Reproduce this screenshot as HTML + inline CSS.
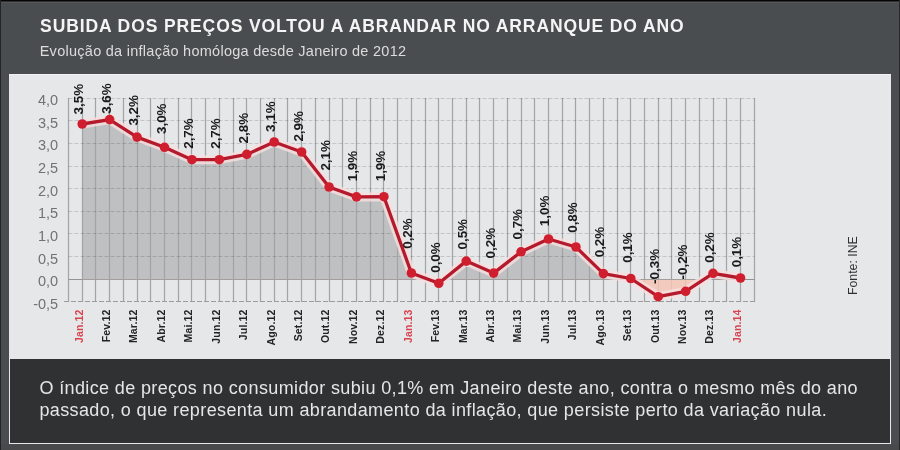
<!DOCTYPE html>
<html><head><meta charset="utf-8"><style>
html,body{margin:0;padding:0;}
body{width:900px;height:450px;overflow:hidden;position:relative;background:#4a4d4f;font-family:"Liberation Sans",sans-serif;}
.topline{position:absolute;left:0;top:0;width:900px;height:1px;background:#050505;}
.topline2{position:absolute;left:0;top:1px;width:900px;height:1px;background:#2e3032;}
.topline3{position:absolute;left:0;top:2px;width:900px;height:1px;background:#535557;}
.botbg{position:absolute;left:0;top:444px;width:900px;height:6px;background:#47494b;}
.lline{position:absolute;left:0;top:0;width:1px;height:450px;background:#222426;}
.rline{position:absolute;right:0;top:0;width:1px;height:450px;background:#252729;}
.title{fill:#f4f4f4;font-weight:bold;font-size:17.5px;letter-spacing:0.89px;}
.sub{fill:#dcdcdc;font-size:14.5px;letter-spacing:0.265px;}
.panel{position:absolute;left:9px;top:74px;width:882px;height:370px;background:#e6e7e9;border-top:1px solid #f0f1f2;box-sizing:border-box;}
.dark{position:absolute;left:10px;top:359px;width:880px;height:84px;background:#303133;}
.txt{fill:#e6e6e6;font-size:18px;letter-spacing:0.375px;}
svg{position:absolute;left:0;top:0;will-change:transform;}
.vl{font-size:13.4px;font-weight:bold;fill:#1a1a1a;}
.ml{font-size:10.5px;font-weight:bold;letter-spacing:0.15px;}
.yl{font-size:14.5px;fill:#717274;}
.fonte{font-size:12.3px;fill:#303030;}
</style></head><body>
<div class="topline"></div><div class="topline2"></div><div class="topline3"></div><div class="botbg"></div><div class="lline"></div><div class="rline"></div>
<div class="panel"></div>
<div class="dark"></div>
<svg width="900" height="450" viewBox="0 0 900 450" font-family="Liberation Sans, sans-serif">
<defs><clipPath id="above"><rect x="0" y="0" width="900" height="279.40"/></clipPath><clipPath id="below"><rect x="0" y="279.40" width="900" height="22"/></clipPath></defs>
<path d="M82.21,279.4 L82.21,124.00 L109.64,119.60 L137.07,137.10 L164.50,147.30 L191.93,159.70 L219.35,159.70 L246.78,154.40 L274.21,142.00 L301.64,152.00 L329.07,187.00 L356.49,196.90 L383.92,196.70 L411.35,273.00 L438.78,283.30 L466.21,261.10 L493.63,273.10 L521.06,251.80 L548.49,239.00 L575.92,247.00 L603.35,273.60 L630.77,278.50 L658.20,296.70 L685.63,291.30 L713.06,273.30 L740.49,278.00 L740.49,279.4 Z" fill="#bfc0c2" clip-path="url(#above)"/>
<line x1="68.5" y1="98" x2="68.5" y2="302" stroke="#a2a4a6" stroke-width="1.25"/>
<line x1="82.5" y1="98" x2="82.5" y2="302" stroke="#a2a4a6" stroke-width="1.25"/>
<line x1="95.5" y1="98" x2="95.5" y2="302" stroke="#a2a4a6" stroke-width="1.25"/>
<line x1="109.5" y1="98" x2="109.5" y2="302" stroke="#a2a4a6" stroke-width="1.25"/>
<line x1="123.5" y1="98" x2="123.5" y2="302" stroke="#a2a4a6" stroke-width="1.25"/>
<line x1="137.5" y1="98" x2="137.5" y2="302" stroke="#a2a4a6" stroke-width="1.25"/>
<line x1="150.5" y1="98" x2="150.5" y2="302" stroke="#a2a4a6" stroke-width="1.25"/>
<line x1="164.5" y1="98" x2="164.5" y2="302" stroke="#a2a4a6" stroke-width="1.25"/>
<line x1="178.5" y1="98" x2="178.5" y2="302" stroke="#a2a4a6" stroke-width="1.25"/>
<line x1="191.5" y1="98" x2="191.5" y2="302" stroke="#a2a4a6" stroke-width="1.25"/>
<line x1="205.5" y1="98" x2="205.5" y2="302" stroke="#a2a4a6" stroke-width="1.25"/>
<line x1="219.5" y1="98" x2="219.5" y2="302" stroke="#a2a4a6" stroke-width="1.25"/>
<line x1="233.5" y1="98" x2="233.5" y2="302" stroke="#a2a4a6" stroke-width="1.25"/>
<line x1="246.5" y1="98" x2="246.5" y2="302" stroke="#a2a4a6" stroke-width="1.25"/>
<line x1="260.5" y1="98" x2="260.5" y2="302" stroke="#a2a4a6" stroke-width="1.25"/>
<line x1="274.5" y1="98" x2="274.5" y2="302" stroke="#a2a4a6" stroke-width="1.25"/>
<line x1="287.5" y1="98" x2="287.5" y2="302" stroke="#a2a4a6" stroke-width="1.25"/>
<line x1="301.5" y1="98" x2="301.5" y2="302" stroke="#a2a4a6" stroke-width="1.25"/>
<line x1="315.5" y1="98" x2="315.5" y2="302" stroke="#a2a4a6" stroke-width="1.25"/>
<line x1="329.5" y1="98" x2="329.5" y2="302" stroke="#a2a4a6" stroke-width="1.25"/>
<line x1="342.5" y1="98" x2="342.5" y2="302" stroke="#a2a4a6" stroke-width="1.25"/>
<line x1="356.5" y1="98" x2="356.5" y2="302" stroke="#a2a4a6" stroke-width="1.25"/>
<line x1="370.5" y1="98" x2="370.5" y2="302" stroke="#a2a4a6" stroke-width="1.25"/>
<line x1="383.5" y1="98" x2="383.5" y2="302" stroke="#a2a4a6" stroke-width="1.25"/>
<line x1="397.5" y1="98" x2="397.5" y2="302" stroke="#a2a4a6" stroke-width="1.25"/>
<line x1="411.5" y1="98" x2="411.5" y2="302" stroke="#a2a4a6" stroke-width="1.25"/>
<line x1="425.5" y1="98" x2="425.5" y2="302" stroke="#a2a4a6" stroke-width="1.25"/>
<line x1="438.5" y1="98" x2="438.5" y2="302" stroke="#a2a4a6" stroke-width="1.25"/>
<line x1="452.5" y1="98" x2="452.5" y2="302" stroke="#a2a4a6" stroke-width="1.25"/>
<line x1="466.5" y1="98" x2="466.5" y2="302" stroke="#a2a4a6" stroke-width="1.25"/>
<line x1="479.5" y1="98" x2="479.5" y2="302" stroke="#a2a4a6" stroke-width="1.25"/>
<line x1="493.5" y1="98" x2="493.5" y2="302" stroke="#a2a4a6" stroke-width="1.25"/>
<line x1="507.5" y1="98" x2="507.5" y2="302" stroke="#a2a4a6" stroke-width="1.25"/>
<line x1="521.5" y1="98" x2="521.5" y2="302" stroke="#a2a4a6" stroke-width="1.25"/>
<line x1="534.5" y1="98" x2="534.5" y2="302" stroke="#a2a4a6" stroke-width="1.25"/>
<line x1="548.5" y1="98" x2="548.5" y2="302" stroke="#a2a4a6" stroke-width="1.25"/>
<line x1="562.5" y1="98" x2="562.5" y2="302" stroke="#a2a4a6" stroke-width="1.25"/>
<line x1="575.5" y1="98" x2="575.5" y2="302" stroke="#a2a4a6" stroke-width="1.25"/>
<line x1="589.5" y1="98" x2="589.5" y2="302" stroke="#a2a4a6" stroke-width="1.25"/>
<line x1="603.5" y1="98" x2="603.5" y2="302" stroke="#a2a4a6" stroke-width="1.25"/>
<line x1="617.5" y1="98" x2="617.5" y2="302" stroke="#a2a4a6" stroke-width="1.25"/>
<line x1="630.5" y1="98" x2="630.5" y2="302" stroke="#a2a4a6" stroke-width="1.25"/>
<line x1="644.5" y1="98" x2="644.5" y2="302" stroke="#a2a4a6" stroke-width="1.25"/>
<line x1="658.5" y1="98" x2="658.5" y2="302" stroke="#a2a4a6" stroke-width="1.25"/>
<line x1="671.5" y1="98" x2="671.5" y2="302" stroke="#a2a4a6" stroke-width="1.25"/>
<line x1="685.5" y1="98" x2="685.5" y2="302" stroke="#a2a4a6" stroke-width="1.25"/>
<line x1="699.5" y1="98" x2="699.5" y2="302" stroke="#a2a4a6" stroke-width="1.25"/>
<line x1="713.5" y1="98" x2="713.5" y2="302" stroke="#a2a4a6" stroke-width="1.25"/>
<line x1="726.5" y1="98" x2="726.5" y2="302" stroke="#a2a4a6" stroke-width="1.25"/>
<line x1="740.5" y1="98" x2="740.5" y2="302" stroke="#a2a4a6" stroke-width="1.25"/>
<line x1="754.5" y1="98" x2="754.5" y2="302" stroke="#a2a4a6" stroke-width="1.25"/>
<line x1="68.5" y1="98.5" x2="754.5" y2="98.5" stroke="#000" stroke-opacity="0.15" stroke-width="1" stroke-dasharray="4,2"/>
<line x1="68.5" y1="120.5" x2="754.5" y2="120.5" stroke="#000" stroke-opacity="0.15" stroke-width="1" stroke-dasharray="4,2"/>
<line x1="68.5" y1="143.5" x2="754.5" y2="143.5" stroke="#000" stroke-opacity="0.15" stroke-width="1" stroke-dasharray="4,2"/>
<line x1="68.5" y1="166.5" x2="754.5" y2="166.5" stroke="#000" stroke-opacity="0.15" stroke-width="1" stroke-dasharray="4,2"/>
<line x1="68.5" y1="188.5" x2="754.5" y2="188.5" stroke="#000" stroke-opacity="0.15" stroke-width="1" stroke-dasharray="4,2"/>
<line x1="68.5" y1="211.5" x2="754.5" y2="211.5" stroke="#000" stroke-opacity="0.15" stroke-width="1" stroke-dasharray="4,2"/>
<line x1="68.5" y1="233.5" x2="754.5" y2="233.5" stroke="#000" stroke-opacity="0.15" stroke-width="1" stroke-dasharray="4,2"/>
<line x1="68.5" y1="256.5" x2="754.5" y2="256.5" stroke="#000" stroke-opacity="0.15" stroke-width="1" stroke-dasharray="4,2"/>
<line x1="68.5" y1="279.5" x2="754.5" y2="279.5" stroke="#909294" stroke-width="1"/>
<line x1="64" y1="301.5" x2="754.5" y2="301.5" stroke="#9a9c9e" stroke-width="1" stroke-dasharray="5,2"/>
<path d="M82.21,279.4 L82.21,124.00 L109.64,119.60 L137.07,137.10 L164.50,147.30 L191.93,159.70 L219.35,159.70 L246.78,154.40 L274.21,142.00 L301.64,152.00 L329.07,187.00 L356.49,196.90 L383.92,196.70 L411.35,273.00 L438.78,283.30 L466.21,261.10 L493.63,273.10 L521.06,251.80 L548.49,239.00 L575.92,247.00 L603.35,273.60 L630.77,278.50 L658.20,296.70 L685.63,291.30 L713.06,273.30 L740.49,278.00 L740.49,279.4 Z" fill="#f3c6b6" fill-opacity="0.85" clip-path="url(#below)"/>
<polyline points="82.21,124.00 109.64,119.60 137.07,137.10 164.50,147.30 191.93,159.70 219.35,159.70 246.78,154.40 274.21,142.00 301.64,152.00 329.07,187.00 356.49,196.90 383.92,196.70 411.35,273.00 438.78,283.30 466.21,261.10 493.63,273.10 521.06,251.80 548.49,239.00 575.92,247.00 603.35,273.60 630.77,278.50 658.20,296.70 685.63,291.30 713.06,273.30 740.49,278.00" fill="none" stroke="#f8dede" stroke-width="9" stroke-linejoin="round" opacity="0.8"/>
<polyline points="82.21,124.00 109.64,119.60 137.07,137.10 164.50,147.30 191.93,159.70 219.35,159.70 246.78,154.40 274.21,142.00 301.64,152.00 329.07,187.00 356.49,196.90 383.92,196.70 411.35,273.00 438.78,283.30 466.21,261.10 493.63,273.10 521.06,251.80 548.49,239.00 575.92,247.00 603.35,273.60 630.77,278.50 658.20,296.70 685.63,291.30 713.06,273.30 740.49,278.00" fill="none" stroke="#b41a2b" stroke-width="3.3" stroke-linejoin="round"/>
<circle cx="82.21" cy="124.00" r="4.8" fill="#cf1f2f"/>
<circle cx="109.64" cy="119.60" r="4.8" fill="#cf1f2f"/>
<circle cx="137.07" cy="137.10" r="4.8" fill="#cf1f2f"/>
<circle cx="164.50" cy="147.30" r="4.8" fill="#cf1f2f"/>
<circle cx="191.93" cy="159.70" r="4.8" fill="#cf1f2f"/>
<circle cx="219.35" cy="159.70" r="4.8" fill="#cf1f2f"/>
<circle cx="246.78" cy="154.40" r="4.8" fill="#cf1f2f"/>
<circle cx="274.21" cy="142.00" r="4.8" fill="#cf1f2f"/>
<circle cx="301.64" cy="152.00" r="4.8" fill="#cf1f2f"/>
<circle cx="329.07" cy="187.00" r="4.8" fill="#cf1f2f"/>
<circle cx="356.49" cy="196.90" r="4.8" fill="#cf1f2f"/>
<circle cx="383.92" cy="196.70" r="4.8" fill="#cf1f2f"/>
<circle cx="411.35" cy="273.00" r="4.8" fill="#cf1f2f"/>
<circle cx="438.78" cy="283.30" r="4.8" fill="#cf1f2f"/>
<circle cx="466.21" cy="261.10" r="4.8" fill="#cf1f2f"/>
<circle cx="493.63" cy="273.10" r="4.8" fill="#cf1f2f"/>
<circle cx="521.06" cy="251.80" r="4.8" fill="#cf1f2f"/>
<circle cx="548.49" cy="239.00" r="4.8" fill="#cf1f2f"/>
<circle cx="575.92" cy="247.00" r="4.8" fill="#cf1f2f"/>
<circle cx="603.35" cy="273.60" r="4.8" fill="#cf1f2f"/>
<circle cx="630.77" cy="278.50" r="4.8" fill="#cf1f2f"/>
<circle cx="658.20" cy="296.70" r="4.8" fill="#cf1f2f"/>
<circle cx="685.63" cy="291.30" r="4.8" fill="#cf1f2f"/>
<circle cx="713.06" cy="273.30" r="4.8" fill="#cf1f2f"/>
<circle cx="740.49" cy="278.00" r="4.8" fill="#cf1f2f"/>
<text transform="translate(83.21,114.40) rotate(-90)" class="vl">3,5%</text>
<text transform="translate(110.64,113.80) rotate(-90)" class="vl">3,6%</text>
<text transform="translate(138.07,125.60) rotate(-90)" class="vl">3,2%</text>
<text transform="translate(165.50,134.00) rotate(-90)" class="vl">3,0%</text>
<text transform="translate(192.93,148.80) rotate(-90)" class="vl">2,7%</text>
<text transform="translate(220.35,148.80) rotate(-90)" class="vl">2,7%</text>
<text transform="translate(247.78,143.40) rotate(-90)" class="vl">2,8%</text>
<text transform="translate(275.21,131.90) rotate(-90)" class="vl">3,1%</text>
<text transform="translate(302.64,141.60) rotate(-90)" class="vl">2,9%</text>
<text transform="translate(330.07,170.60) rotate(-90)" class="vl">2,1%</text>
<text transform="translate(357.49,181.30) rotate(-90)" class="vl">1,9%</text>
<text transform="translate(384.92,181.30) rotate(-90)" class="vl">1,9%</text>
<text transform="translate(412.35,248.80) rotate(-90)" class="vl">0,2%</text>
<text transform="translate(439.78,272.80) rotate(-90)" class="vl">0,0%</text>
<text transform="translate(467.21,249.50) rotate(-90)" class="vl">0,5%</text>
<text transform="translate(494.63,258.40) rotate(-90)" class="vl">0,2%</text>
<text transform="translate(522.06,239.50) rotate(-90)" class="vl">0,7%</text>
<text transform="translate(549.49,226.20) rotate(-90)" class="vl">1,0%</text>
<text transform="translate(576.92,232.80) rotate(-90)" class="vl">0,8%</text>
<text transform="translate(604.35,257.30) rotate(-90)" class="vl">0,2%</text>
<text transform="translate(631.77,262.80) rotate(-90)" class="vl">0,1%</text>
<text transform="translate(659.20,283.90) rotate(-90)" class="vl">-0,3%</text>
<text transform="translate(686.63,279.50) rotate(-90)" class="vl">-0,2%</text>
<text transform="translate(714.06,262.80) rotate(-90)" class="vl">0,2%</text>
<text transform="translate(741.49,267.30) rotate(-90)" class="vl">0,1%</text>
<text transform="translate(82.51,309.5) rotate(-90)" class="ml" fill="#d9434f" text-anchor="end">Jan.12</text>
<text transform="translate(109.94,309.5) rotate(-90)" class="ml" fill="#242424" text-anchor="end">Fev.12</text>
<text transform="translate(137.37,309.5) rotate(-90)" class="ml" fill="#242424" text-anchor="end">Mar.12</text>
<text transform="translate(164.80,309.5) rotate(-90)" class="ml" fill="#242424" text-anchor="end">Abr.12</text>
<text transform="translate(192.23,309.5) rotate(-90)" class="ml" fill="#242424" text-anchor="end">Mai.12</text>
<text transform="translate(219.65,309.5) rotate(-90)" class="ml" fill="#242424" text-anchor="end">Jun.12</text>
<text transform="translate(247.08,309.5) rotate(-90)" class="ml" fill="#242424" text-anchor="end">Jul.12</text>
<text transform="translate(274.51,309.5) rotate(-90)" class="ml" fill="#242424" text-anchor="end">Ago.12</text>
<text transform="translate(301.94,309.5) rotate(-90)" class="ml" fill="#242424" text-anchor="end">Set.12</text>
<text transform="translate(329.37,309.5) rotate(-90)" class="ml" fill="#242424" text-anchor="end">Out.12</text>
<text transform="translate(356.79,309.5) rotate(-90)" class="ml" fill="#242424" text-anchor="end">Nov.12</text>
<text transform="translate(384.22,309.5) rotate(-90)" class="ml" fill="#242424" text-anchor="end">Dez.12</text>
<text transform="translate(411.65,309.5) rotate(-90)" class="ml" fill="#d9434f" text-anchor="end">Jan.13</text>
<text transform="translate(439.08,309.5) rotate(-90)" class="ml" fill="#242424" text-anchor="end">Fev.13</text>
<text transform="translate(466.51,309.5) rotate(-90)" class="ml" fill="#242424" text-anchor="end">Mar.13</text>
<text transform="translate(493.93,309.5) rotate(-90)" class="ml" fill="#242424" text-anchor="end">Abr.13</text>
<text transform="translate(521.36,309.5) rotate(-90)" class="ml" fill="#242424" text-anchor="end">Mai.13</text>
<text transform="translate(548.79,309.5) rotate(-90)" class="ml" fill="#242424" text-anchor="end">Jun.13</text>
<text transform="translate(576.22,309.5) rotate(-90)" class="ml" fill="#242424" text-anchor="end">Jul.13</text>
<text transform="translate(603.65,309.5) rotate(-90)" class="ml" fill="#242424" text-anchor="end">Ago.13</text>
<text transform="translate(631.07,309.5) rotate(-90)" class="ml" fill="#242424" text-anchor="end">Set.13</text>
<text transform="translate(658.50,309.5) rotate(-90)" class="ml" fill="#242424" text-anchor="end">Out.13</text>
<text transform="translate(685.93,309.5) rotate(-90)" class="ml" fill="#242424" text-anchor="end">Nov.13</text>
<text transform="translate(713.36,309.5) rotate(-90)" class="ml" fill="#242424" text-anchor="end">Dez.13</text>
<text transform="translate(740.79,309.5) rotate(-90)" class="ml" fill="#d9434f" text-anchor="end">Jan.14</text>
<text x="58.2" y="105.00" class="yl" text-anchor="end">4,0</text>
<text x="58.2" y="127.67" class="yl" text-anchor="end">3,5</text>
<text x="58.2" y="150.35" class="yl" text-anchor="end">3,0</text>
<text x="58.2" y="173.02" class="yl" text-anchor="end">2,5</text>
<text x="58.2" y="195.70" class="yl" text-anchor="end">2,0</text>
<text x="58.2" y="218.37" class="yl" text-anchor="end">1,5</text>
<text x="58.2" y="241.05" class="yl" text-anchor="end">1,0</text>
<text x="58.2" y="263.72" class="yl" text-anchor="end">0,5</text>
<text x="58.2" y="286.40" class="yl" text-anchor="end">0,0</text>
<text x="58.2" y="309.07" class="yl" text-anchor="end">-0,5</text>
<text x="40.1" y="31.6" class="title">SUBIDA DOS PREÇOS VOLTOU A ABRANDAR NO ARRANQUE DO ANO</text>
<text x="39.7" y="55.9" class="sub">Evolução da inflação homóloga desde Janeiro de 2012</text>
<text x="39.4" y="393.6" class="txt">O índice de preços no consumidor subiu 0,1% em Janeiro deste ano, contra o mesmo mês do ano</text>
<text x="39.4" y="415.9" class="txt">passado, o que representa um abrandamento da inflação, que persiste perto da variação nula.</text>
<text transform="translate(857,295) rotate(-90)" class="fonte">Fonte: INE</text>
</svg>
</body></html>
